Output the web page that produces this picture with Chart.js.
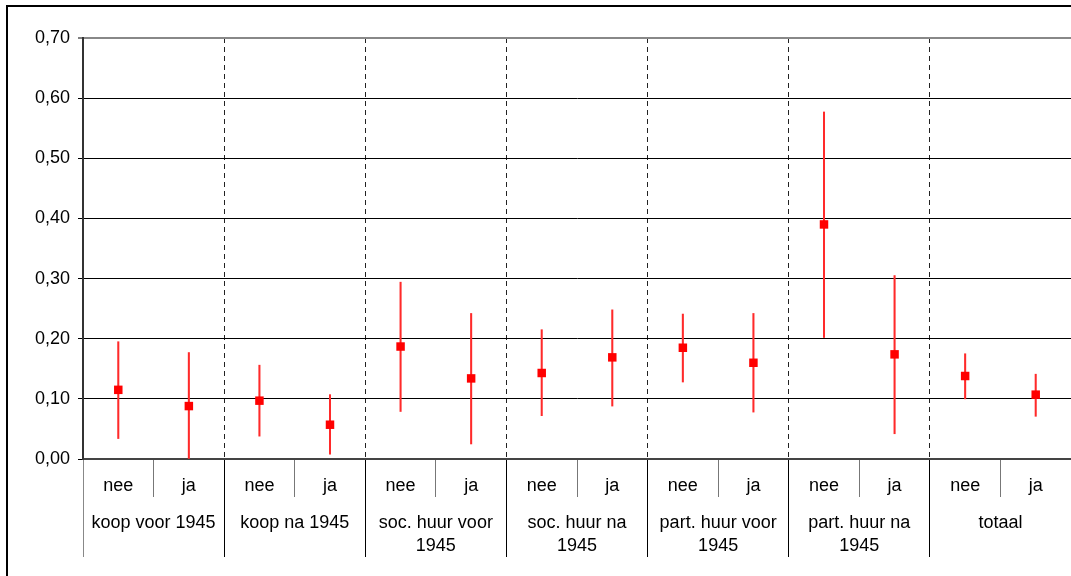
<!DOCTYPE html>
<html>
<head>
<meta charset="utf-8">
<script src="https://cdn.jsdelivr.net/npm/chart.js@4/dist/chart.umd.min.js"></script>
<style>
  html, body { margin: 0; padding: 0; background: #fff; }
  #wrap { width: 1071px; height: 576px; position: relative; overflow: hidden; }
</style>
</head>
<body>
<div id="wrap"><canvas id="c" width="1071" height="576"></canvas></div>
<script>
// ---- data ----
const categories = ['nee','ja','nee','ja','nee','ja','nee','ja','nee','ja','nee','ja','nee','ja'];
const groups = ['koop voor 1945', 'koop na 1945', ['soc. huur voor', '1945'], ['soc. huur na', '1945'],
                ['part. huur voor', '1945'], ['part. huur na', '1945'], 'totaal'];
const means = [0.115, 0.088, 0.097, 0.057, 0.187, 0.134, 0.143, 0.169, 0.185, 0.160, 0.390, 0.174, 0.138, 0.107];
const lower = [0.034, 0.000, 0.038, 0.008, 0.079, 0.025, 0.072, 0.088, 0.128, 0.078, 0.202, 0.042, 0.100, 0.071];
const upper = [0.195, 0.177, 0.156, 0.107, 0.294, 0.242, 0.215, 0.248, 0.241, 0.242, 0.577, 0.305, 0.175, 0.141];
const yMin = 0, yMax = 0.7, yStep = 0.1;

const FONT = "'Liberation Sans', Arial, sans-serif";

const frame = {
  id: 'frame',
  beforeDraw(chart) {
    const ctx = chart.ctx;
    ctx.save();
    ctx.strokeStyle = '#000';
    ctx.lineWidth = 2;
    ctx.strokeRect(7, 6, chart.width + 40, chart.height + 40);
    ctx.restore();
  }
};

function noPad(s) { s.paddingLeft = 0; s.paddingRight = 0; }

new Chart(document.getElementById('c'), {
  type: 'bar',
  data: {
    labels: categories,
    datasets: [
      {
        type: 'line',
        data: means,
        showLine: false,
        pointStyle: 'rect',
        pointRadius: 6,
        pointHoverRadius: 6,
        pointBackgroundColor: '#ff0000',
        pointBorderWidth: 0,
        borderColor: '#ff0000',
        order: 0,
        xAxisID: 'x', yAxisID: 'y'
      },
      {
        type: 'bar',
        data: lower.map((l, i) => [l, upper[i]]),
        backgroundColor: '#ff2a2a',
        borderWidth: 0,
        barThickness: 1.4,
        order: 1,
        xAxisID: 'x', yAxisID: 'y'
      }
    ]
  },
  options: {
    responsive: false,
    devicePixelRatio: 1,
    animation: false,
    events: [],
    layout: { autoPadding: false, padding: { left: 0, top: 38, right: -2, bottom: 19 } },
    plugins: { legend: { display: false }, tooltip: { enabled: false } },
    scales: {
      x: {
        type: 'category',
        position: 'bottom',
        weight: 0,
        offset: true,
        afterFit: (s) => { s.height = 38; noPad(s); },
        border: { display: true, color: '#444', width: 2 },
        grid: {
          offset: true,
          drawOnChartArea: false,
          drawTicks: true,
          tickLength: 38,
          tickWidth: 1,
          tickColor: (c) => (c.index === 0 ? '#888' : (c.index % 2 === 0 ? '#000' : '#777'))
        },
        ticks: {
          autoSkip: false, maxRotation: 0, minRotation: 0,
          padding: -21.6,
          color: '#000',
          font: { family: FONT, size: 18 }
        }
      },
      x2: {
        type: 'category',
        position: 'bottom',
        weight: 1,
        labels: groups,
        offset: true,
        afterFit: (s) => { s.height = 60; noPad(s); },
        border: { display: false, dash: [5, 4] },
        grid: {
          offset: true,
          drawOnChartArea: true,
          color: (c) => (c.index === 0 ? 'rgba(0,0,0,0)' : '#222'),
          lineWidth: 1,
          drawTicks: true,
          tickLength: 60,
          tickWidth: 1,
          tickBorderDash: [],
          tickColor: (c) => (c.index === 0 ? '#888' : '#000')
        },
        ticks: {
          autoSkip: false, maxRotation: 0, minRotation: 0,
          padding: -45.5,
          color: '#000',
          font: { family: FONT, size: 18, lineHeight: 1.28 }
        }
      },
      y: {
        min: yMin, max: yMax,
        afterFit: (s) => { s.width = 83; noPad(s); },
        border: { display: true, color: '#333', width: 2 },
        grid: {
          color: (c) => (c.tick && c.tick.value >= yMax - 1e-9 ? '#888' : '#000'),
          lineWidth: (c) => (c.tick && c.tick.value >= yMax - 1e-9 ? 2 : 1),
          drawTicks: true,
          tickLength: 5,
          tickColor: '#000',
          tickWidth: 1
        },
        ticks: {
          stepSize: yStep,
          padding: 8,
          color: '#000',
          font: { family: FONT, size: 18 },
          callback: (v) => v.toFixed(2).replace('.', ',')
        }
      }
    }
  },
  plugins: [frame]
});
</script>
</body>
</html>
